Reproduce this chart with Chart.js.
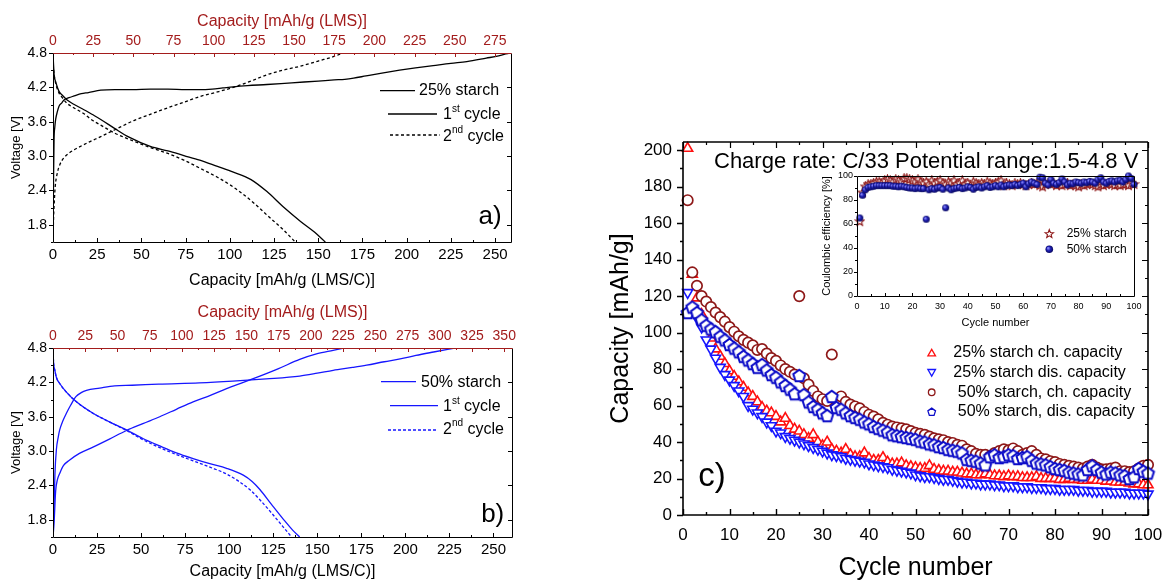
<!DOCTYPE html>
<html><head><meta charset="utf-8">
<script src="https://cdn.jsdelivr.net/npm/chart.js@4.4.1/dist/chart.umd.min.js"></script>
<style>
html,body{margin:0;padding:0;background:#fff;width:1163px;height:581px;overflow:hidden;position:relative;}
canvas{position:absolute;}
</style></head><body>
<canvas id="ca" width="530" height="290" style="left:0px;top:0px;width:530px;height:290px"></canvas>
<canvas id="cb" width="530" height="291" style="left:0px;top:290px;width:530px;height:291px"></canvas>
<canvas id="cc" width="573" height="453" style="left:590px;top:130px;width:573px;height:453px"></canvas>
<canvas id="ci" width="330" height="165" style="left:820px;top:165px;width:330px;height:165px"></canvas>
<script>
// ---------------- DATA ----------------
// Panel a (25% starch): capacity [mAh/g (LMS/C)] vs voltage [V]
const aCh1Cap = [0, 0.3, 0.6, 1.0, 1.5, 2.5, 3.4, 5, 6.2, 9, 12, 16, 20, 27, 35, 45, 55, 65, 75, 83, 90, 96, 102, 110, 121, 135, 150, 159, 165, 170, 177, 186, 196, 205, 215, 225, 234, 245, 252, 258];
const aCh1V   = [1.5, 2.6, 3.29, 3.5, 3.64, 3.78, 3.87, 3.93, 3.98, 4.02, 4.05, 4.09, 4.11, 4.15, 4.16, 4.16, 4.17, 4.17, 4.16, 4.16, 4.17, 4.19, 4.21, 4.23, 4.25, 4.28, 4.31, 4.33, 4.34, 4.36, 4.40, 4.45, 4.50, 4.54, 4.58, 4.62, 4.65, 4.71, 4.75, 4.80];
const aDis1Cap = [0, 0.3, 0.7, 1.5, 3.4, 5, 8, 12, 17.5, 22, 27, 35, 43, 55, 65, 74, 83, 93, 102, 112, 121, 130, 140, 148, 154];
const aDis1V   = [4.8, 4.6, 4.4, 4.3, 4.13, 4.07, 3.98, 3.9, 3.81, 3.73, 3.64, 3.48, 3.33, 3.17, 3.09, 3.01, 2.93, 2.82, 2.72, 2.59, 2.38, 2.12, 1.86, 1.67, 1.5];
const aCh2Cap = [0, 0.3, 0.6, 1.2, 2.4, 4, 6.2, 9, 12, 20, 27, 35, 45.7, 55, 64.6, 74, 83, 93, 102, 112, 121, 130, 140, 150, 159, 164];
const aCh2V   = [1.5, 1.9, 2.12, 2.45, 2.7, 2.86, 2.97, 3.05, 3.11, 3.24, 3.34, 3.46, 3.62, 3.73, 3.84, 3.94, 4.04, 4.12, 4.2, 4.31, 4.42, 4.5, 4.57, 4.66, 4.74, 4.8];
const aDis2Cap = [0, 1, 3.4, 5, 8, 12, 17.5, 22, 27, 35, 45.7, 55, 64.6, 74, 83, 93, 100, 106, 114, 121, 130, 137];
const aDis2V   = [4.6, 4.35, 4.1, 4.03, 3.92, 3.84, 3.74, 3.63, 3.54, 3.4, 3.26, 3.15, 3.05, 2.93, 2.79, 2.63, 2.5, 2.37, 2.17, 1.97, 1.72, 1.5];

// Panel b (50% starch)
const bCh1Cap = [0, 0.2, 0.6, 1.1, 1.9, 3, 3.8, 5.5, 7.6, 10, 13, 16, 19, 26.5, 35, 45, 60, 83, 102, 121, 140, 150, 159, 170, 178, 188, 197, 206, 216, 228];
const bCh1V   = [1.5, 1.8, 2.03, 2.6, 3.02, 3.25, 3.37, 3.52, 3.66, 3.8, 3.95, 4.02, 4.06, 4.1, 4.14, 4.15, 4.17, 4.19, 4.22, 4.26, 4.31, 4.36, 4.41, 4.46, 4.5, 4.56, 4.61, 4.67, 4.73, 4.8];
const bCh2Cap = [0, 0.6, 1.5, 2.5, 3.8, 6, 9.3, 15, 22.7, 32, 41.7, 51, 60.6, 70, 79.5, 89, 98.5, 108, 117.4, 128, 140, 150, 159, 165];
const bCh2V   = [1.5, 1.74, 2.3, 2.5, 2.61, 2.75, 2.84, 2.96, 3.07, 3.21, 3.36, 3.48, 3.6, 3.73, 3.86, 3.97, 4.09, 4.2, 4.31, 4.44, 4.6, 4.7, 4.76, 4.8];
const bDis1Cap = [0, 0.3, 1, 2, 3.8, 7.6, 13.3, 22.7, 32, 41.7, 51, 60.6, 70, 79.5, 89, 98.5, 108, 113, 117.4, 124, 131, 136, 140];
const bDis1V   = [4.8, 4.55, 4.42, 4.28, 4.18, 4.03, 3.86, 3.66, 3.51, 3.37, 3.22, 3.09, 2.97, 2.87, 2.78, 2.7, 2.58, 2.47, 2.33, 2.07, 1.8, 1.62, 1.5];
const bDis2Cap = [0, 0.3, 1, 2, 3.8, 7.6, 13.3, 22.7, 32, 41.7, 51, 60.6, 70, 79.5, 89, 98.5, 106, 112, 117.4, 124, 130, 135.4];
const bDis2V   = [4.8, 4.55, 4.42, 4.28, 4.18, 4.03, 3.86, 3.66, 3.51, 3.36, 3.2, 3.06, 2.94, 2.83, 2.72, 2.6, 2.46, 2.32, 2.15, 1.92, 1.7, 1.5];

// Panel c: cycle number vs capacity [mAh/g]
const cycles = [1,2,3,4,5,6,7,8,9,10,11,12,13,14,15,16,17,18,19,20,21,22,23,24,25,26,27,28,29,30,31,32,33,34,35,36,37,38,39,40,41,42,43,44,45,46,47,48,49,50,51,52,53,54,55,56,57,58,59,60,61,62,63,64,65,66,67,68,69,70,71,72,73,74,75,76,77,78,79,80,81,82,83,84,85,86,87,88,89,90,91,92,93,94,95,96,97,98,99,100];
const ch25 = [
201, 132, 119, 110, 103, 97, 91, 87, 83, 79,
76, 73, 70, 67, 65, 62, 59, 57, 56, 54,
51, 53, 49, 47, 46, 44, 42, 44, 40, 38,
40, 36, 35, 34, 36, 33, 32, 32, 34, 31,
30, 30, 31.5, 29, 28, 28, 28.5, 27, 26.5, 26,
25.5, 25.5, 27, 25, 24.5, 24, 24, 23.5, 23.5, 23,
22.5, 22.5, 22, 22, 22.5, 22, 21.5, 21.5, 21, 21.5,
21, 21, 20.5, 20.5, 20.5, 21, 20, 20, 20, 20,
19.5, 19.5, 20, 19.5, 19.5, 19, 19, 19.5, 19, 19,
18.5, 18.5, 18, 18, 18, 17.5, 17, 17, 16.5, 16.5];
const dis25 = [
122, 113, 108, 103, 96, 91, 86, 81, 77, 74,
71, 68, 65, 60, 58, 56, 54, 51, 49, 46,
45, 43, 42, 41, 40, 39, 38, 37, 36, 35,
34, 33, 32.5, 32, 31, 30.5, 30, 29.5, 29, 28,
27.5, 27, 26.5, 26, 25, 24.5, 24, 23.5, 23, 22,
21.5, 21, 21, 20.5, 20, 19.5, 19.5, 19, 18.5, 18,
18, 17.5, 17.5, 17, 17, 17, 16.5, 16.5, 16, 16,
16, 15.5, 15.5, 15.5, 15, 15, 15, 14.5, 14.5, 14.5,
14, 14, 14, 14, 13.5, 13.5, 13.5, 13, 13, 13,
13, 12.5, 12.5, 12.5, 12.5, 12, 12, 12, 12, 11.5];
const ch50 = [
172.6, 133, 125.7, 120, 117, 114, 111, 108.5, 106, 103,
100.5, 98, 96, 94.5, 93, 90.5, 91, 88.5, 86, 84.5,
82, 80, 78.5, 77, 120, 75, 71.5, 68, 65, 63.5,
62.5, 88, 63, 65, 62, 60.5, 59.5, 58.5, 56.5, 55,
54, 52.5, 50.5, 49.5, 48.5, 48, 47.5, 47, 46, 45,
44.5, 44, 43, 42, 41.5, 41, 40, 39.5, 38.5, 38,
36, 35, 33.5, 33, 33, 32, 34, 35, 36, 35.5,
36.5, 35, 33, 34, 35, 33, 31, 30.5, 29.5, 29,
28, 27.5, 27, 26.5, 26, 25.5, 26.5, 27.5, 26, 25,
25, 25.5, 26, 24, 24, 23.5, 24, 25.5, 27, 27.5];
const dis50 = [
111, 114, 111, 107, 104, 102, 100.5, 98, 96, 93.5,
91.5, 89.5, 87, 85, 83, 81, 82.5, 79.5, 77, 75.5,
73, 71, 69, 66.5, 76.5, 66, 62, 59.5, 58, 56,
54.5, 65, 59, 58, 56, 54.5, 53.5, 52.5, 51, 50,
48.5, 47.5, 46.5, 45.5, 44, 43.5, 43, 42.5, 42, 41.5,
40.5, 40, 39, 38.5, 37.5, 37, 36, 35.5, 35, 34,
30.5, 30, 29.5, 28.5, 27.5, 32, 33, 31.5, 32, 33,
32.5, 31, 31.5, 32, 30, 28.5, 28, 27.5, 26.5, 25.5,
25, 24.5, 23.5, 23, 22.5, 22, 25, 27, 25, 23.5,
22.5, 23.5, 23, 22, 21.5, 20, 21, 25.5, 24, 23];
// Inset: Coulombic efficiency [%]
const ce25 = [
62, 86, 91, 93, 93, 94, 95, 95, 94, 96,
97, 96, 95, 97, 96, 95, 98, 98, 97, 96,
95, 97, 95, 94, 95, 93, 96, 94, 95, 96,
94, 93, 95, 94, 96, 93, 94, 96, 93, 94,
92, 95, 94, 93, 94, 93, 95, 94, 93, 94,
95, 96, 92, 94, 93, 92, 94, 93, 94, 93,
92, 93, 94, 93, 94, 92, 91, 93, 94, 93,
94, 92, 93, 92, 93, 94, 92, 93, 92, 91,
93, 92, 93, 94, 93, 92, 91, 93, 92, 93,
94, 93, 92, 93, 92, 93, 93, 92, 94, 93];
const ce50 = [
65, 84, 88.5, 90.5, 91, 91.5, 92, 92, 92, 92,
92, 92, 91.5, 91.5, 91, 91.5, 91, 90.5, 90, 90,
89.5, 90, 89.5, 89.5, 64, 88.5, 89.5, 89, 90, 90.5,
89, 73.5, 90, 88.5, 89.5, 90, 90.5, 89.5, 90, 91,
90.5, 89, 90.5, 91, 90, 91, 92, 90.5, 91, 92,
91, 92.5, 91, 92, 92.5, 92, 93, 92, 93, 94,
91, 93.5, 95, 94, 93, 99, 98.5, 94, 92.5, 97,
94, 93, 94.5, 97.5, 95, 92.5, 94, 93.5, 95, 94.5,
94, 95, 94.5, 95.5, 95, 94, 97, 98.5, 95, 94,
95.5, 96, 95, 96, 96.5, 95, 97, 100, 98, 93];

// Tick values
const voltTicks = [1.8, 2.4, 3.0, 3.6, 4.2, 4.8];
const voltMinor = [1.5, 2.1, 2.7, 3.3, 3.9, 4.5];
const capTicksAB = [0, 25, 50, 75, 100, 125, 150, 175, 200, 225, 250];
const capMinorAB = [12.5, 37.5, 62.5, 87.5, 112.5, 137.5, 162.5, 187.5, 212.5, 237.5];
const aTopTicks = [0, 25, 50, 75, 100, 125, 150, 175, 200, 225, 250, 275];
const aTopMinor = [12.5, 37.5, 62.5, 87.5, 112.5, 137.5, 162.5, 187.5, 212.5, 237.5, 262.5];
const bTopTicks = [0, 25, 50, 75, 100, 125, 150, 175, 200, 225, 250, 275, 300, 325, 350];
const bTopMinor = [12.5, 37.5, 62.5, 87.5, 112.5, 137.5, 162.5, 187.5, 212.5, 237.5, 262.5, 287.5, 312.5, 337.5];
const cycleTicks = [0, 10, 20, 30, 40, 50, 60, 70, 80, 90, 100];
const cycleMinor = [5, 15, 25, 35, 45, 55, 65, 75, 85, 95];
const capTicksC = [0, 20, 40, 60, 80, 100, 120, 140, 160, 180, 200];
const capMinorC = [10, 30, 50, 70, 90, 110, 130, 150, 170, 190];
const ceTicks = [0, 20, 40, 60, 80, 100];
const ceMinor = [10, 30, 50, 70, 90];

// ---------------- STYLE ----------------
const FONT = "'Liberation Sans', Arial, sans-serif";
Chart.defaults.font.family = FONT;
Chart.defaults.color = '#000';
const DARKRED_AX = '#a31c1c';
const BLUE = '#1616ff';
const RED = '#ff1010';
const DRED = '#8e1818';
const PBLUE = '#0c0cc8';

function pts(xs, ys) { return xs.map((x, i) => ({x: x, y: ys[i]})); }
function setTicks(arr) { return s => { s.ticks = arr.map(v => ({value: v})); }; }
function fitH(h) { return s => { s.height = h; s.paddingLeft = 0; s.paddingRight = 0; s.paddingTop = 0; s.paddingBottom = 0; }; }
function fitW(w) { return s => { s.width = w; s.paddingLeft = 0; s.paddingRight = 0; s.paddingTop = 0; s.paddingBottom = 0; }; }

function framePlugin(cfg) {
  return {
    id: 'frame',
    afterDatasetsDraw(chart) {
      const ctx = chart.ctx, a = chart.chartArea;
      const L = Math.round(a.left), R = Math.round(a.right), T = Math.round(a.top), B = Math.round(a.bottom);
      ctx.save();
      cfg.ticks.forEach(t => {
        const s = chart.scales[t.axis];
        ctx.strokeStyle = t.color || '#000';
        ctx.lineWidth = t.width || 1;
        ctx.beginPath();
        t.values.forEach(v => {
          const p = Math.round(s.getPixelForValue(v)) + 0.5;
          const sg = t.dir === 'out' ? 1 : -1;
          if (t.side === 'left') { ctx.moveTo(L, p); ctx.lineTo(L - sg * t.len, p); }
          if (t.side === 'right') { ctx.moveTo(R, p); ctx.lineTo(R + sg * t.len, p); }
          if (t.side === 'bottom') { ctx.moveTo(p, B); ctx.lineTo(p, B + sg * t.len); }
          if (t.side === 'top') { ctx.moveTo(p, T); ctx.lineTo(p, T - sg * t.len); }
        });
        ctx.stroke();
      });
      const off = cfg.lw === 1 ? 0.5 : 0;
      ctx.lineWidth = cfg.lw;
      ctx.strokeStyle = cfg.color;
      ctx.beginPath();
      ctx.moveTo(L + off, T + off); ctx.lineTo(L + off, B + off); ctx.lineTo(R + off, B + off); ctx.lineTo(R + off, T + off);
      ctx.stroke();
      ctx.strokeStyle = cfg.topColor || cfg.color;
      ctx.beginPath(); ctx.moveTo(L + off, T + off); ctx.lineTo(R + off, T + off); ctx.stroke();
      ctx.restore();
    }
  };
}
function notesPlugin(draw) {
  return { id: 'notes', afterDraw(chart) { const ctx = chart.ctx; ctx.save(); draw(ctx, chart); ctx.restore(); } };
}
function txt(ctx, s, x, y, size, color, align) {
  ctx.font = size + 'px ' + FONT; ctx.fillStyle = color || '#000';
  ctx.textAlign = align || 'left'; ctx.textBaseline = 'middle'; ctx.fillText(s, x, y);
}
function supTxt(ctx, base, sup, rest, x, y, size, color) {
  ctx.textBaseline = 'middle'; ctx.textAlign = 'left'; ctx.fillStyle = color || '#000';
  ctx.font = size + 'px ' + FONT; ctx.fillText(base, x, y); let w = ctx.measureText(base).width;
  ctx.font = Math.round(size * 0.62) + 'px ' + FONT; ctx.fillText(sup, x + w, y - size * 0.36); w += ctx.measureText(sup).width;
  ctx.font = size + 'px ' + FONT; ctx.fillText(rest, x + w, y);
}
function seg(ctx, x1, x2, y, color, dash, lw) {
  ctx.strokeStyle = color; ctx.lineWidth = lw || 1.3; ctx.setLineDash(dash || []);
  ctx.beginPath(); ctx.moveTo(x1, y); ctx.lineTo(x2, y); ctx.stroke(); ctx.setLineDash([]);
}
function polyPath(ctx, x, y, r, n, rot) {
  ctx.beginPath();
  for (let i = 0; i < n; i++) {
    const ang = rot + i * 2 * Math.PI / n;
    const px = x + r * Math.cos(ang), py = y + r * Math.sin(ang);
    if (i) ctx.lineTo(px, py); else ctx.moveTo(px, py);
  }
  ctx.closePath();
}
function starPath(ctx, x, y, ro, ri) {
  ctx.beginPath();
  for (let i = 0; i < 10; i++) {
    const r = i % 2 ? ri : ro; const ang = -Math.PI / 2 + i * Math.PI / 5;
    const px = x + r * Math.cos(ang), py = y + r * Math.sin(ang);
    if (i) ctx.lineTo(px, py); else ctx.moveTo(px, py);
  }
  ctx.closePath();
}
function sphere(ctx, x, y, r, col) {
  const g = ctx.createRadialGradient(x - r * 0.35, y - r * 0.35, r * 0.1, x, y, r);
  g.addColorStop(0, '#8c8cff'); g.addColorStop(0.5, col); g.addColorStop(1, '#0a0a60');
  ctx.fillStyle = g; ctx.beginPath(); ctx.arc(x, y, r, 0, Math.PI * 2); ctx.fill();
}
function makeImg(size, draw) {
  const c = document.createElement('canvas'); c.width = size; c.height = size;
  draw(c.getContext('2d'), size / 2); return c;
}
const pentImg = makeImg(17, (g, m) => { polyPath(g, m, m + 0.6, 6.3, 5, -Math.PI / 2); g.fillStyle = '#fff'; g.fill(); g.lineWidth = 2; g.strokeStyle = PBLUE; g.stroke(); });
const starImg = makeImg(11, (g, m) => { starPath(g, m, m, 4.6, 2); g.fillStyle = '#fff'; g.fill(); g.lineWidth = 1.1; g.strokeStyle = DRED; g.stroke(); });
const sphereImg = makeImg(9, (g, m) => { sphere(g, m, m, 3.5, '#1c1cb0'); });

const common = { animation: false, responsive: false, events: [], plugins: { legend: { display: false }, tooltip: { enabled: false } } };
function lineDs(xs, ys, color, dash) {
  return { data: pts(xs, ys), showLine: true, borderColor: color, borderWidth: 1.3, borderDash: dash || [], pointRadius: 0, cubicInterpolationMode: 'monotone', fill: false };
}
function voltCapScales(topMax, topTicks, botMax, topH, botH, topTitlePad) {
  return {
    x: { type: 'linear', position: 'bottom', min: 0, max: botMax, afterBuildTicks: setTicks(capTicksAB), afterFit: fitH(botH),
      grid: { display: false, drawTicks: false }, border: { display: false },
      ticks: { font: { size: 15 }, padding: 4, autoSkip: false, maxRotation: 0 },
      title: { display: true, text: 'Capacity [mAh/g (LMS/C)]', font: { size: 16 }, padding: { top: 0, bottom: 0 } } },
    x2: { type: 'linear', position: 'top', min: 0, max: topMax, afterBuildTicks: setTicks(topTicks), afterFit: fitH(topH),
      grid: { display: false, drawTicks: false }, border: { display: false },
      ticks: { font: { size: 14 }, padding: 3, color: DARKRED_AX, autoSkip: false, maxRotation: 0 },
      title: { display: true, text: 'Capacity [mAh/g (LMS)]', color: DARKRED_AX, font: { size: 16 }, padding: { top: topTitlePad, bottom: 0 } } },
    y: { type: 'linear', position: 'left', min: 1.5, max: 4.8, afterBuildTicks: setTicks(voltTicks), afterFit: fitW(53),
      grid: { display: false, drawTicks: false }, border: { display: false },
      ticks: { font: { size: 14 }, padding: 6, autoSkip: false, callback: v => Number(v).toFixed(1) },
      title: { display: true, text: 'Voltage [V]', font: { size: 13 }, padding: { top: 9, bottom: 0 } } }
  };
}
function abTicks(topMinorArr, topTicksArr) {
  return [
    { axis: 'y', side: 'left', values: voltTicks, len: 4, dir: 'out' },
    { axis: 'y', side: 'left', values: voltMinor, len: 2, dir: 'out' },
    { axis: 'y', side: 'right', values: voltTicks, len: 4, dir: 'in' },
    { axis: 'x', side: 'bottom', values: capTicksAB, len: 4, dir: 'in' },
    { axis: 'x', side: 'bottom', values: capMinorAB, len: 2, dir: 'in' },
    { axis: 'x2', side: 'top', values: topTicksArr, len: 4, dir: 'in', color: DARKRED_AX },
    { axis: 'x2', side: 'top', values: topMinorArr, len: 2, dir: 'in', color: DARKRED_AX }
  ];
}

// ---------------- PANEL A ----------------
new Chart(document.getElementById('ca'), {
  type: 'scatter',
  data: { datasets: [
    lineDs(aCh1Cap, aCh1V, '#000'), lineDs(aDis1Cap, aDis1V, '#000'),
    lineDs(aCh2Cap, aCh2V, '#000', [3, 2.5]), lineDs(aDis2Cap, aDis2V, '#000', [3, 2.5])
  ] },
  options: Object.assign({}, common, {
    layout: { padding: { left: 0, right: 19, top: 0, bottom: 0 } },
    scales: voltCapScales(285, aTopTicks, 259, 53, 48, 12)
  }),
  plugins: [
    framePlugin({ color: '#000', topColor: DARKRED_AX, lw: 1, ticks: abTicks(aTopMinor, aTopTicks) }),
    notesPlugin(ctx => {
      seg(ctx, 380, 415, 90.7, '#000');
      txt(ctx, '25% starch', 419, 91, 16);
      seg(ctx, 388, 437, 114, '#000');
      supTxt(ctx, '1', 'st', ' cycle', 443, 115, 16);
      seg(ctx, 390, 440, 135, '#000', [3, 2.5]);
      supTxt(ctx, '2', 'nd', ' cycle', 443, 136.5, 16);
      txt(ctx, 'a)', 490, 217, 26, '#000', 'center');
    })
  ]
});

// ---------------- PANEL B ----------------
new Chart(document.getElementById('cb'), {
  type: 'scatter',
  data: { datasets: [
    lineDs(bCh1Cap, bCh1V, BLUE), lineDs(bDis1Cap, bDis1V, BLUE),
    lineDs(bCh2Cap, bCh2V, BLUE), lineDs(bDis2Cap, bDis2V, BLUE, [3, 2])
  ] },
  options: Object.assign({}, common, {
    layout: { padding: { left: 0, right: 18, top: 0, bottom: 0 } },
    scales: voltCapScales(356, bTopTicks, 260.5, 58, 44, 13)
  }),
  plugins: [
    framePlugin({ color: '#000', topColor: DARKRED_AX, lw: 1, ticks: abTicks(bTopMinor, bTopTicks) }),
    notesPlugin(ctx => {
      seg(ctx, 381, 416, 91.7, BLUE);
      txt(ctx, '50% starch', 421, 92.7, 16);
      seg(ctx, 390, 438, 115.7, BLUE);
      supTxt(ctx, '1', 'st', ' cycle', 443, 116.7, 16);
      seg(ctx, 388, 438, 140, BLUE, [3, 2]);
      supTxt(ctx, '2', 'nd', ' cycle', 443, 139.3, 16);
      txt(ctx, 'b)', 492.7, 225, 26, '#000', 'center');
    })
  ]
});

// ---------------- PANEL C ----------------
new Chart(document.getElementById('cc'), {
  type: 'scatter',
  data: { datasets: [
    { label: '50% starch, dis. capacity', data: pts(cycles, dis50), pointStyle: pentImg, pointRadius: 5, order: 0, clip: false },
    { label: '25% starch dis. capacity', data: pts(cycles, dis25), pointStyle: 'triangle', pointRotation: 180, pointRadius: 5.8, pointBorderColor: BLUE, pointBackgroundColor: '#fff', pointBorderWidth: 1.6, order: 1, clip: false },
    { label: '50% starch, ch. capacity', data: pts(cycles, ch50), pointStyle: 'circle', pointRadius: 5.2, pointBorderColor: DRED, pointBackgroundColor: '#fff', pointBorderWidth: 1.7, order: 2, clip: false },
    { label: '25% starch ch. capacity', data: pts(cycles, ch25), pointStyle: 'triangle', pointRadius: 5.8, pointBorderColor: RED, pointBackgroundColor: '#fff', pointBorderWidth: 1.6, order: 3, clip: false }
  ] },
  options: Object.assign({}, common, {
    layout: { padding: { left: 0, right: 15, top: 12, bottom: 0 } },
    scales: {
      x: { type: 'linear', position: 'bottom', min: 0, max: 100, afterBuildTicks: setTicks(cycleTicks), afterFit: fitH(68),
        grid: { display: false, drawTicks: false }, border: { display: false },
        ticks: { font: { size: 17 }, padding: 10, autoSkip: false, maxRotation: 0 },
        title: { display: true, text: 'Cycle number', font: { size: 25 }, padding: { top: 0, bottom: 0 } } },
      y: { type: 'linear', position: 'left', min: 0, max: 204.5, afterBuildTicks: setTicks(capTicksC), afterFit: fitW(93),
        grid: { display: false, drawTicks: false }, border: { display: false },
        ticks: { font: { size: 17 }, padding: 11, autoSkip: false },
        title: { display: true, text: 'Capacity [mAh/g]', font: { size: 25 }, padding: { top: 16, bottom: 0 } } }
    }
  }),
  plugins: [
    framePlugin({ color: '#000', lw: 1.6, ticks: [
      { axis: 'y', side: 'left', values: capTicksC, len: 6, dir: 'out', width: 1.4 },
      { axis: 'y', side: 'left', values: capMinorC, len: 3, dir: 'out', width: 1.4 },
      { axis: 'y', side: 'right', values: capTicksC, len: 6, dir: 'in', width: 1.2 },
      { axis: 'y', side: 'right', values: capMinorC, len: 3, dir: 'in', width: 1.2 },
      { axis: 'x', side: 'bottom', values: cycleTicks, len: 6, dir: 'in', width: 1.4 },
      { axis: 'x', side: 'bottom', values: cycleMinor, len: 3, dir: 'in', width: 1.4 },
      { axis: 'x', side: 'top', values: cycleTicks, len: 6, dir: 'in', width: 1.2 },
      { axis: 'x', side: 'top', values: cycleMinor, len: 3, dir: 'in', width: 1.2 }
    ] }),
    notesPlugin(ctx => {
      txt(ctx, 'Charge rate: C/33 Potential range:1.5-4.8 V', 124, 32.3, 22);
      txt(ctx, 'c)', 122, 346.7, 33, '#000', 'center');
      const mx = 341.7, tx = 363.3;
      ctx.lineWidth = 1.3;
      polyPath(ctx, mx, 222.7 + 1, 4.4, 3, -Math.PI / 2); ctx.strokeStyle = RED; ctx.stroke();
      txt(ctx, '25% starch ch. capacity', tx, 222.7, 16);
      polyPath(ctx, mx, 242.7 - 1, 4.4, 3, Math.PI / 2); ctx.strokeStyle = BLUE; ctx.lineWidth = 1.3; ctx.stroke();
      txt(ctx, '25% starch dis. capacity', tx, 242.7, 16);
      ctx.beginPath(); ctx.arc(mx, 262.3, 3.3, 0, Math.PI * 2); ctx.strokeStyle = DRED; ctx.lineWidth = 1.3; ctx.stroke();
      txt(ctx, ' 50% starch, ch. capacity', tx, 262.3, 16);
      polyPath(ctx, mx, 281.7 + 0.4, 4, 5, -Math.PI / 2); ctx.strokeStyle = PBLUE; ctx.lineWidth = 1.3; ctx.stroke();
      txt(ctx, ' 50% starch, dis. capacity', tx, 281.7, 16);
    })
  ]
});

// ---------------- INSET ----------------
new Chart(document.getElementById('ci'), {
  type: 'scatter',
  data: { datasets: [
    { label: '50% starch', data: pts(cycles, ce50), pointStyle: sphereImg, pointRadius: 3.5, order: 0, clip: false },
    { label: '25% starch', data: pts(cycles, ce25), pointStyle: starImg, pointRadius: 3.5, order: 1, clip: false }
  ] },
  options: Object.assign({}, common, {
    layout: { padding: { left: 0, right: 16, top: 11, bottom: 0 } },
    scales: {
      x: { type: 'linear', position: 'bottom', min: 0, max: 100, afterBuildTicks: setTicks(cycleTicks), afterFit: fitH(34),
        grid: { display: false, drawTicks: false }, border: { display: false },
        ticks: { font: { size: 9 }, padding: 5, autoSkip: false, maxRotation: 0 },
        title: { display: true, text: 'Cycle number', font: { size: 11 }, padding: { top: 0, bottom: 0 } } },
      y: { type: 'linear', position: 'left', min: 0, max: 100, afterBuildTicks: setTicks(ceTicks), afterFit: fitW(37),
        grid: { display: false, drawTicks: false }, border: { display: false },
        ticks: { font: { size: 9 }, padding: 4, autoSkip: false },
        title: { display: true, text: 'Coulombic efficiency [%]', font: { size: 11 }, padding: { top: 0, bottom: 0 } } }
    }
  }),
  plugins: [
    framePlugin({ color: '#000', lw: 1, ticks: [
      { axis: 'y', side: 'left', values: ceTicks, len: 3, dir: 'out' },
      { axis: 'y', side: 'left', values: ceMinor, len: 2, dir: 'out' },
      { axis: 'x', side: 'bottom', values: cycleTicks, len: 3, dir: 'in' },
      { axis: 'x', side: 'bottom', values: cycleMinor, len: 2, dir: 'in' }
    ] }),
    notesPlugin(ctx => {
      starPath(ctx, 229.3, 69, 4.4, 1.9); ctx.strokeStyle = DRED; ctx.lineWidth = 1.1; ctx.stroke();
      txt(ctx, '25% starch', 246.7, 69, 12);
      sphere(ctx, 229.3, 84.3, 3.8, '#1c1cb0');
      txt(ctx, '50% starch', 246.7, 84.3, 12);
    })
  ]
});
</script>
</body></html>
